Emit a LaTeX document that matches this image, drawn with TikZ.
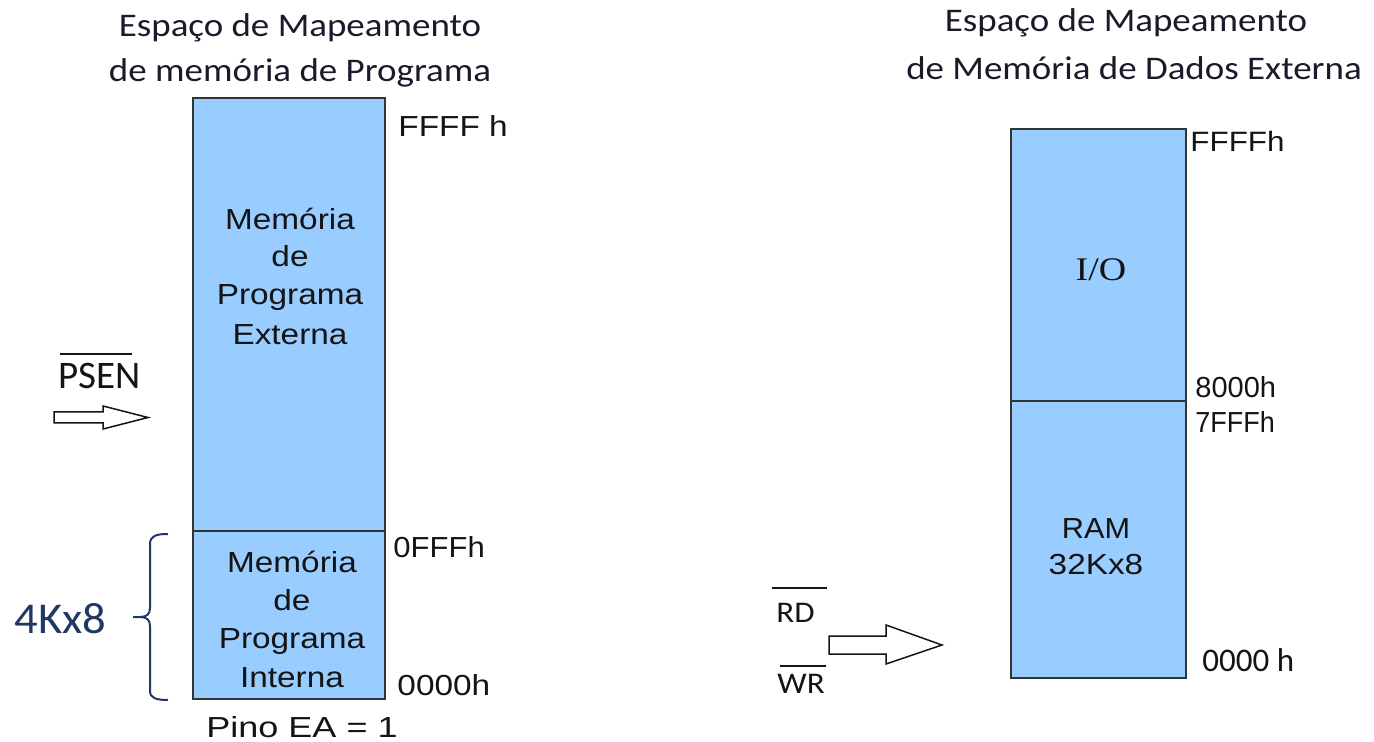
\documentclass[tikz,border=0pt]{standalone}
\usepackage{fontspec}
\newfontfamily\carlito{Carlito}
\newfontfamily\libsans{Liberation Sans}
\newfontfamily\libserif{Liberation Serif}
\definecolor{memfill}{HTML}{99CCFF}
\definecolor{boxline}{HTML}{333333}
\definecolor{ink}{HTML}{141414}
\definecolor{titleink}{HTML}{1A1A2A}
\definecolor{navy}{HTML}{1F3864}
\tikzset{
  memblk/.style={draw=boxline, fill=memfill, line width=1pt, inner sep=0pt, outer sep=0pt},
  ttl/.style={font=\carlito\fontsize{16.5}{20}\selectfont, text=titleink, inner sep=0pt, anchor=base, xscale=1.12},
  lab/.style={font=\libsans\fontsize{14.5}{18}\selectfont, text=ink, inner sep=0pt, anchor=base, xscale=1.15},
  addr/.style={font=\libsans\fontsize{14.5}{18}\selectfont, text=ink, inner sep=0pt, anchor=base west},
  cal/.style={font=\carlito\fontsize{15}{18}\selectfont, text=ink, inner sep=0pt, anchor=base west},
  ol/.style={draw=ink, line width=0.7pt},
  hollow/.style={draw=ink, fill=white, line width=0.75pt, line join=miter}
}
\begin{document}
\begin{tikzpicture}[x=0.5pt,y=-0.5pt]
\useasboundingbox (0,0) rectangle (1374,742);

% ---------- left: program memory ----------
\node[ttl] (t1a) at (300,37) {Espaço de Mapeamento};
\node[ttl] (t1b) at (300,82) {de memória de Programa};

\node[memblk, minimum width=96pt, minimum height=216.5pt] (ext) at (289,314.5) {};
\node[memblk, minimum width=96pt, minimum height=84pt] (int) at (289,615) {};

\node[lab] (e1) at (290,230) {Memória};
\node[lab] (e2) at (290,267) {de};
\node[lab] (e3) at (290,305) {Programa};
\node[lab] (e4) at (290,345) {Externa};

\node[lab] (i1) at (292,572) {Memória};
\node[lab] (i2) at (292,610) {de};
\node[lab] (i3) at (292,648) {Programa};
\node[lab] (i4) at (292,687) {Interna};

\node[addr, xscale=1.15] (affff) at (398,137) {FFFF h};
\node[addr, xscale=1.07] (a0fff) at (393,557) {0FFFh};
\node[addr, xscale=1.15] (a0000) at (397,695) {0000h};
\node[lab, xscale=1.08] (pino) at (302,737) {Pino EA = 1};

\node[cal, font=\carlito\fontsize{19.5}{22}\selectfont] (psen) at (58,389) {PSEN};
\draw[ol] (60,354) -- (132,354);
\draw[hollow] (54,412) -- (103,412) -- (103,406) -- (148,417.5) -- (103,429) -- (103,423) -- (54,423) -- cycle;

\node[cal, font=\carlito\fontsize{22}{26}\selectfont, text=navy, xscale=1.06] (kx8) at (14,633) {4Kx8};
\draw[navy, line width=1pt] (168,534) .. controls (156,534) and (150,536) .. (150,544) -- (150,608)
  .. controls (150,614) and (147,617) .. (140,617) -- (133,617) -- (140,617)
  .. controls (147,617) and (150,620) .. (150,626) -- (150,691)
  .. controls (150,698) and (156,700) .. (168,700);

% ---------- right: external data memory ----------
\node[ttl] (t2a) at (1126,32) {Espaço de Mapeamento};
\node[ttl] (t2b) at (1134,80) {de Memória de Dados Externa};

\node[memblk, minimum width=87.5pt, minimum height=136pt] (io) at (1098.5,265) {};
\node[memblk, minimum width=87.5pt, minimum height=138.5pt] (ram) at (1098.5,539.5) {};

\node[lab, font=\libserif\fontsize{16.5}{20}\selectfont, xscale=1] (iot) at (1101,281) {I/O};
\node[lab, xscale=0.92] (ramt) at (1096,538) {RAM};
\node[lab, xscale=1] (ramk) at (1096,574) {32Kx8};

\node[addr, xscale=1.12, font=\libsans\fontsize{14}{18}\selectfont] (bffff) at (1190,152) {FFFFh};
\node[addr] (b8000) at (1195,398) {8000h};
\node[addr, xscale=0.93] (b7fff) at (1195,432) {7FFFh};
\node[cal, font=\carlito\fontsize{16.5}{20}\selectfont] (b0000) at (1202,671) {0000 h};

\node[cal, xscale=1.1] (rd) at (776,622) {RD};
\draw[ol] (772,588) -- (827,588);
\node[cal, xscale=1.1] (wr) at (777,693) {WR};
\draw[ol] (780,666) -- (826,666);
\draw[hollow] (829,636) -- (886,636) -- (886,625) -- (942,645) -- (886,664) -- (886,654) -- (829,654) -- cycle;
\end{tikzpicture}
\end{document}
